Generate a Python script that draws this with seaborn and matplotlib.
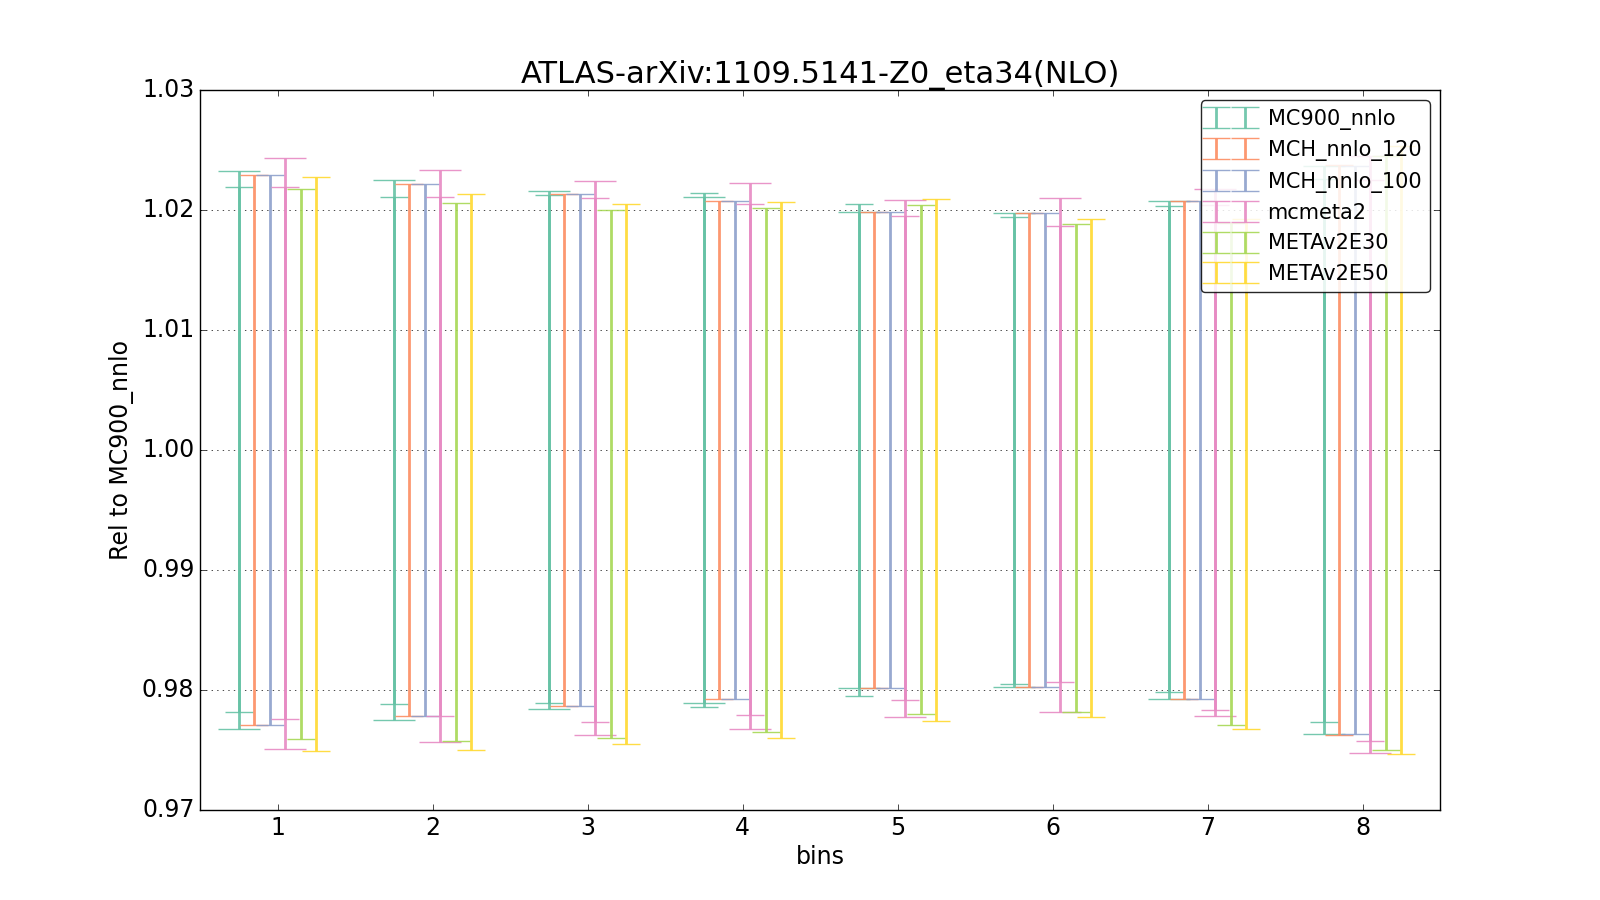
import numpy as np
import matplotlib
matplotlib.use("Agg")
import matplotlib.pyplot as plt
from matplotlib.ticker import FormatStrFormatter
import seaborn as sns

bins = [1, 2, 3, 4, 5, 6, 7, 8]
labels = ["MC900_nnlo", "MCH_nnlo_120", "MCH_nnlo_100", "mcmeta2", "METAv2E30", "METAv2E50"]

# band with narrow caps (all sets)
mc900_up = [1.02192, 1.02108, 1.02125, 1.02142, 1.0205, 1.01942, 1.0203, 1.0226]
mc900_dn = [0.97817, 0.97883, 0.97892, 0.97858, 0.9795, 0.9805, 0.97983, 0.97733]
mch120_up = [1.02294, 1.02219, 1.02133, 1.02075, 1.01983, 1.01975, 1.02075, 1.02375]
mch120_dn = [0.97708, 0.97783, 0.97867, 0.97925, 0.98017, 0.98025, 0.97925, 0.97625]
mch100_up = [1.02294, 1.02219, 1.02133, 1.02075, 1.01983, 1.01975, 1.02075, 1.02367]
mch100_dn = [0.97708, 0.97783, 0.97867, 0.97925, 0.98017, 0.98025, 0.97925, 0.97633]
mcmeta_up = [1.02192, 1.02108, 1.021, 1.0205, 1.0195, 1.01867, 1.0204, 1.0225]
mcmeta_dn = [0.97758, 0.97783, 0.97733, 0.97792, 0.97917, 0.98067, 0.97833, 0.97575]
e30_up = [1.02175, 1.02058, 1.02, 1.02017, 1.02042, 1.01883, 1.01892, 1.0245]
e30_dn = [0.97592, 0.97575, 0.976, 0.9765, 0.978, 0.97817, 0.97708, 0.975]
e50_up = [1.02275, 1.02133, 1.0205, 1.02067, 1.02092, 1.01925, 1.01925, 1.0253]
e50_dn = [0.97492, 0.975, 0.9755, 0.976, 0.97742, 0.97775, 0.97675, 0.97467]

# band with wide caps (MC sets only)
mc900_sd_up = [1.02325, 1.0225, 1.02158, 1.02108, 1.01983, 1.01975, 1.02075, 1.02367]
mc900_sd_dn = [0.97675, 0.9775, 0.97842, 0.97892, 0.98017, 0.98025, 0.97925, 0.97633]
mcmeta_sd_up = [1.02433, 1.02333, 1.02242, 1.02225, 1.02083, 1.021, 1.02175, 1.0245]
mcmeta_sd_dn = [0.97508, 0.97567, 0.97625, 0.97675, 0.97775, 0.97817, 0.97783, 0.97475]

plt.style.use("classic")
plt.rcParams["font.family"] = ["DejaVu Sans"]
colors = sns.color_palette("Set2", 6)

narrow = [(mc900_up, mc900_dn), (mch120_up, mch120_dn), (mch100_up, mch100_dn),
          (mcmeta_up, mcmeta_dn), (e30_up, e30_dn), (e50_up, e50_dn)]
wide = {0: (mc900_sd_up, mc900_sd_dn), 3: (mcmeta_sd_up, mcmeta_sd_dn)}


def draw_band(ax, x, up, dn, color, capsize, label=None):
    up = np.array(up)
    dn = np.array(dn)
    mid = (up + dn) / 2
    ax.errorbar(x, mid, yerr=[mid - dn, up - mid], fmt="none", ecolor=color,
                elinewidth=2, capsize=capsize, capthick=1, alpha=0.9, label=label)


fig, ax = plt.subplots(figsize=(16, 9), dpi=100)
fig.patch.set_facecolor("white")

offsets = np.linspace(-0.25, 0.25, len(labels))
x = np.array(bins, dtype=float)
for i, lab in enumerate(labels):
    if i in wide:
        draw_band(ax, x + offsets[i], *wide[i], colors[i], capsize=15)
    draw_band(ax, x + offsets[i], *narrow[i], colors[i], capsize=10, label=lab)

ax.set_xlim(0.5, 8.5)
ax.set_ylim(0.97, 1.03)
ax.set_xticks(bins)
ax.yaxis.set_major_formatter(FormatStrFormatter("%.2f"))
ax.yaxis.grid(True, linestyle=":", color="k")
ax.set_axisbelow(True)
ax.tick_params(labelsize=17)
ax.set_title("ATLAS-arXiv:1109.5141-Z0_eta34(NLO)", fontsize=22)
ax.set_xlabel("bins", fontsize=17, labelpad=4)
ax.set_ylabel("Rel to MC900_nnlo", fontsize=17, labelpad=6)
ax.legend(loc="upper right", fontsize=15, numpoints=2, fancybox=True, framealpha=0.85)

fig.subplots_adjust(left=0.125, right=0.9, bottom=0.1, top=0.9)
fig.savefig("out.png", dpi=100, facecolor="white")
